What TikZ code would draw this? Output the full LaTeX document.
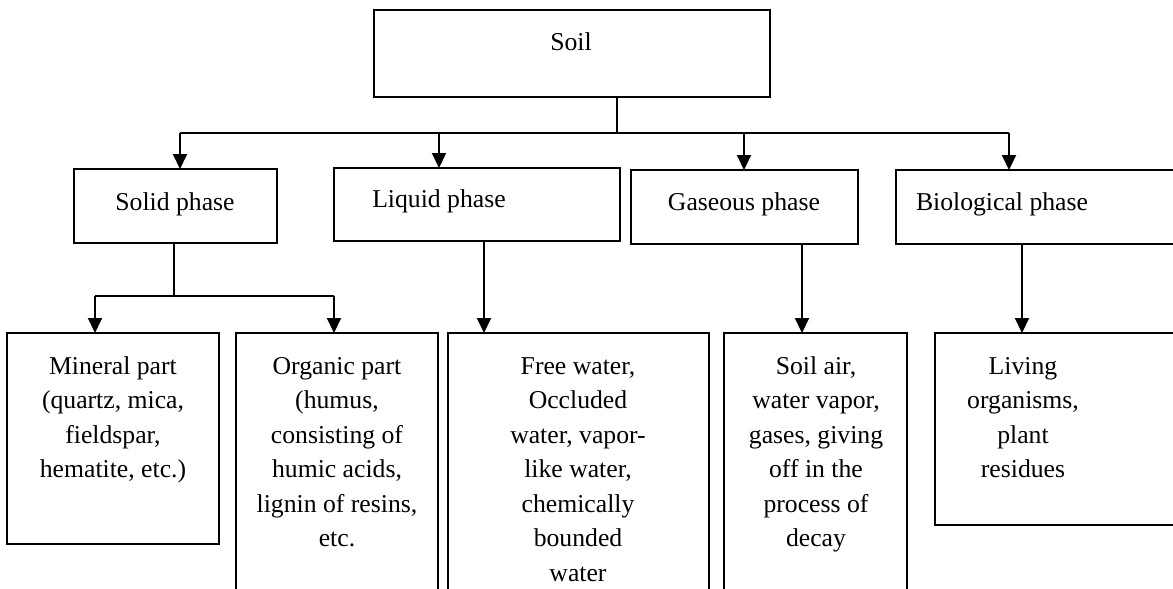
\documentclass[tikz,border=0pt]{standalone}
\usepackage{fontspec}
\setmainfont{Liberation Serif}
\usetikzlibrary{arrows.meta}
\begin{document}
\begin{tikzpicture}[x=1pt,y=-1pt,
  box/.style={draw, line width=1.8pt, inner sep=0pt, outer sep=0pt, anchor=north west},
  txt/.style={inner sep=0pt, anchor=base, font=\fontsize{25.7}{34.5}\selectfont},
  ln/.style={line width=2pt},
  arr/.style={line width=2pt, -{Triangle[width=14pt,length=15pt]}}]
\useasboundingbox (0,0) rectangle (1173,589);
\clip (0,0) rectangle (1173,589);
% boxes
\node[box, minimum width=396pt, minimum height=87pt] (soil) at (374,10) {};
\node[box, minimum width=203pt, minimum height=74pt] (solid) at (74,169) {};
\node[box, minimum width=286pt, minimum height=73pt] (liquid) at (334,168) {};
\node[box, minimum width=227pt, minimum height=74pt] (gas) at (631,170) {};
\node[box, minimum width=300pt, minimum height=74pt] (bio) at (896,170) {};
\node[box, minimum width=212pt, minimum height=211pt] (mineral) at (7,333) {};
\node[box, minimum width=202pt, minimum height=290pt] (organic) at (236,333) {};
\node[box, minimum width=261pt, minimum height=290pt] (water) at (448,333) {};
\node[box, minimum width=183pt, minimum height=290pt] (air) at (724,333) {};
\node[box, minimum width=265pt, minimum height=192pt] (living) at (935,333) {};
% texts
\node[txt] (tsoil) at (571,50) {Soil};
\node[txt] (tsolid) at (175,210) {Solid phase};
\node[txt] (tliquid) at (439,207) {Liquid phase};
\node[txt] (tgas) at (744,210) {Gaseous phase};
\node[txt] (tbio) at (1002,210) {Biological phase};
\node[txt] (tmineral) at (113,374) {\begin{tabular}[t]{@{}c@{}}Mineral part\\(quartz, mica,\\fieldspar,\\hematite, etc.)\end{tabular}};
\node[txt] (torganic) at (337,374) {\begin{tabular}[t]{@{}c@{}}Organic part\\(humus,\\consisting of\\humic acids,\\lignin of resins,\\etc.\end{tabular}};
\node[txt] (twater) at (578,374) {\begin{tabular}[t]{@{}c@{}}Free water,\\Occluded\\water, vapor-\\like water,\\chemically\\bounded\\water\end{tabular}};
\node[txt] (tair) at (816,374) {\begin{tabular}[t]{@{}c@{}}Soil air,\\water vapor,\\gases, giving\\off in the\\process of\\decay\end{tabular}};
\node[txt] (tliving) at (1023,374) {\begin{tabular}[t]{@{}c@{}}Living\\organisms,\\plant\\residues\end{tabular}};
% connector coordinates
\coordinate (j0) at (617,133);
\coordinate (b1) at (180,133);
\coordinate (b2) at (439,133);
\coordinate (b3) at (744,133);
\coordinate (b4) at (1009,133);
\coordinate (s0) at (174,296);
\coordinate (s1) at (95,296);
\coordinate (s2) at (334,296);
\coordinate (l0) at (484,0);
\coordinate (g0) at (802,0);
\coordinate (v0) at (1022,0);
% connectors
\draw[ln] (soil.south -| j0) -- (j0);
\draw[ln] (b1) -- (b4);
\draw[arr] (b1) -- (b1 |- solid.north);
\draw[arr] (b2) -- (b2 |- liquid.north);
\draw[arr] (b3) -- (b3 |- gas.north);
\draw[arr] (b4) -- (b4 |- bio.north);
\draw[ln] (solid.south -| s0) -- (s0);
\draw[ln] (s1) -- (s2);
\draw[arr] (s1) -- (s1 |- mineral.north);
\draw[arr] (s2) -- (s2 |- organic.north);
\draw[arr] (liquid.south -| l0) -- (l0 |- water.north);
\draw[arr] (gas.south -| g0) -- (g0 |- air.north);
\draw[arr] (bio.south -| v0) -- (v0 |- living.north);
\end{tikzpicture}
\end{document}
